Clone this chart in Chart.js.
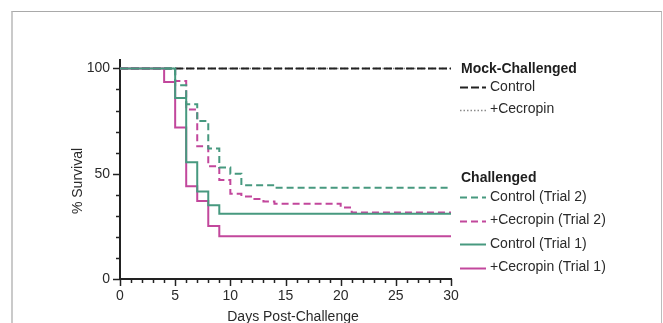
<!DOCTYPE html>
<html>
<head>
<meta charset="utf-8">
<script src="https://cdn.jsdelivr.net/npm/chart.js@4.4.1/dist/chart.umd.min.js"></script>
<style>
  html, body { margin: 0; padding: 0; background: #fff; overflow: hidden; }
  #frame { position: absolute; left: 11px; top: 11px; width: 648px; height: 340px;
           border-left: 2px solid #cacaca; border-top: 1px solid #a9a9a9; border-right: 1px solid #bcbcbc; }
  #wrap { position: absolute; left: 0; top: 0; width: 663px; height: 340px; }
</style>
</head>
<body>
<div id="frame"></div>
<div id="wrap"><canvas id="chart"></canvas></div>
<script>
// Kaplan-Meier style survival data (days, % survival)
const mockCtrlDays = [0, 30];
const mockCtrlSurv = [100, 100];
const mockCecDays = [0, 30];
const mockCecSurv = [100, 100];

const ctrl2Days = [0, 5, 6, 7, 8, 9, 10, 11, 14, 30];
const ctrl2Surv = [100, 92, 83, 75, 62, 53, 50, 44.5, 43.3, 43.3];
const cec2Days = [0, 5, 6, 7, 8, 9, 10, 11, 12, 13, 14, 20, 21, 30];
const cec2Surv = [100, 94, 80.5, 63, 53.5, 47, 40.5, 39.2, 38, 36.8, 35.7, 34, 31.6, 31.6];
const ctrl1Days = [0, 5, 6, 7, 8, 9, 30];
const ctrl1Surv = [100, 86, 55.5, 41.5, 35, 31, 31];
const cec1Days = [0, 4, 5, 6, 7, 8, 9, 30];
const cec1Surv = [100, 93.5, 72, 44, 37, 25.2, 20.3, 20.3];

const xTicks = [0, 5, 10, 15, 20, 25, 30];
const yTicks = [0, 50, 100];

const green = '#47997f';
const magenta = '#c2479c';
const textColor = '#2a2a2a';
const fontFamily = '"Liberation Sans", Arial, sans-serif';

const pts = (days, surv) => days.map((d, i) => ({ x: d, y: surv[i] }));

// first dataset is drawn on top
const datasets = [
  { label: 'Control (Trial 1)', data: pts(ctrl1Days, ctrl1Surv), borderColor: green, borderWidth: 2, borderDash: [] },
  { label: '+Cecropin (Trial 1)', data: pts(cec1Days, cec1Surv), borderColor: magenta, borderWidth: 2, borderDash: [] },
  { label: 'Control (Trial 2)', data: pts(ctrl2Days, ctrl2Surv), borderColor: green, borderWidth: 2, borderDash: [7, 4] },
  { label: '+Cecropin (Trial 2)', data: pts(cec2Days, cec2Surv), borderColor: magenta, borderWidth: 2, borderDash: [7, 4] },
  { label: 'Control', data: pts(mockCtrlDays, mockCtrlSurv), borderColor: '#222', borderWidth: 2, borderDash: [8, 3] },
  { label: '+Cecropin', data: pts(mockCecDays, mockCecSurv), borderColor: '#8a8a8a', borderWidth: 1.5, borderDash: [1.5, 2] },
].map(d => Object.assign(d, { stepped: 'before', pointRadius: 0, fill: false, tension: 0 }));

const legendGroups = [
  { title: 'Mock-Challenged', items: ['Control', '+Cecropin'] },
  { title: 'Challenged', items: ['Control (Trial 2)', '+Cecropin (Trial 2)', 'Control (Trial 1)', '+Cecropin (Trial 1)'] },
];

// Minor ticks, axis titles and the grouped legend
const extras = {
  id: 'extras',
  afterDraw(chart) {
    const { ctx, scales: { x, y } } = chart;
    ctx.save();
    ctx.strokeStyle = '#222';
    ctx.lineWidth = 1.5;
    for (let v = 0; v <= 100; v += 10) {
      const py = Math.round(y.getPixelForValue(v)) + 0.5;
      const len = v % 50 === 0 ? 7 : 4;
      ctx.beginPath();
      ctx.moveTo(x.left, py);
      ctx.lineTo(x.left - len, py);
      ctx.stroke();
    }
    for (let v = 0; v <= 30; v += 1) {
      const px = Math.round(x.getPixelForValue(v)) + 0.5;
      const len = v % 5 === 0 ? 7 : 4;
      ctx.beginPath();
      ctx.moveTo(px, y.bottom);
      ctx.lineTo(px, y.bottom + len);
      ctx.stroke();
    }

    ctx.fillStyle = textColor;
    ctx.font = '14px ' + fontFamily;
    ctx.textAlign = 'center';
    ctx.textBaseline = 'middle';
    ctx.fillText('Days Post-Challenge', 293, 317);
    ctx.save();
    ctx.translate(78, 181);
    ctx.rotate(-Math.PI / 2);
    ctx.fillText('% Survival', 0, 0);
    ctx.restore();

    // legend
    const rows = [69, 87, 109.5, null, 178, 197, 220.5, 244, 267.5];
    let r = 0;
    ctx.textAlign = 'left';
    legendGroups.forEach((g, gi) => {
      if (gi > 0) r++;
      ctx.font = 'bold 14px ' + fontFamily;
      ctx.fillStyle = '#1e1e1e';
      ctx.fillText(g.title, 461, rows[r++]);
      g.items.forEach(label => {
        const ds = datasets.find(d => d.label === label);
        const ry = rows[r++];
        ctx.strokeStyle = ds.borderColor;
        ctx.lineWidth = ds.borderWidth;
        ctx.setLineDash(ds.borderDash);
        ctx.beginPath();
        ctx.moveTo(460, Math.round(ry) + 0.5);
        ctx.lineTo(486, Math.round(ry) + 0.5);
        ctx.stroke();
        ctx.setLineDash([]);
        ctx.font = '14px ' + fontFamily;
        ctx.fillStyle = textColor;
        ctx.fillText(label, 490, ry);
      });
    });
    ctx.restore();
  }
};

new Chart(document.getElementById('chart'), {
  type: 'line',
  data: { datasets },
  options: {
    responsive: true,
    maintainAspectRatio: false,
    animation: false,
    layout: { padding: { left: 60, right: 212, top: 60, bottom: 21 } },
    plugins: { legend: { display: false }, tooltip: { enabled: false } },
    scales: {
      x: {
        type: 'linear', min: 0, max: 30,
        grid: { display: false, drawTicks: false },
        border: { display: true, color: '#222', width: 2 },
        afterBuildTicks: s => { s.ticks = xTicks.map(v => ({ value: v })); },
        afterFit: s => { s.height = 40; },
        ticks: { padding: 9, color: textColor, font: { family: fontFamily, size: 14 }, maxRotation: 0, autoSkip: false }
      },
      y: {
        type: 'linear', min: 0, max: 104,
        grid: { display: false, drawTicks: false },
        border: { display: true, color: '#222', width: 2 },
        afterBuildTicks: s => { s.ticks = yTicks.map(v => ({ value: v })); },
        afterFit: s => { s.width = 60; },
        ticks: { padding: 10, color: textColor, font: { family: fontFamily, size: 14 }, autoSkip: false }
      }
    }
  },
  plugins: [extras]
});
</script>
</body>
</html>
